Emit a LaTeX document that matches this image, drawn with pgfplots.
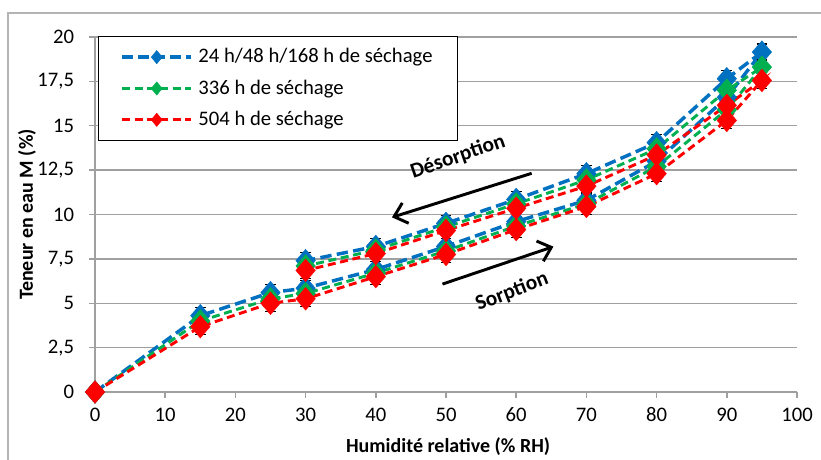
\documentclass[border=0pt]{standalone}
\usepackage{fontspec}
\setmainfont{Carlito}
\usepackage{pgfplots}
\pgfplotsset{compat=1.18}
\usepackage{pgfplotstable}
\usetikzlibrary{arrows.meta}
\definecolor{cblue}{RGB}{0,112,192}
\definecolor{cgreen}{RGB}{0,176,80}
\definecolor{cred}{RGB}{255,0,0}
\definecolor{cgrid}{RGB}{160,160,160}
\definecolor{cframe}{RGB}{180,180,180}

% 24 h/48 h/168 h : sorption then desorption
\pgfplotstableread{
x y e
0 0 0.3
15 4.3 0.45
25 5.6 0.45
30 5.85 0.45
40 6.9 0.45
50 8.2 0.45
60 9.6 0.45
70 10.8 0.45
80 13.0 0.45
90 16.6 0.45
95 19.15 0.45
90 17.65 0.45
80 14.05 0.45
70 12.3 0.45
60 10.85 0.45
50 9.5 0.45
40 8.2 0.45
30 7.4 0.45
}\tblue

\pgfplotstableread{
x y e
0 0 0.3
15 4.0 0.45
25 5.25 0.45
30 5.55 0.45
40 6.7 0.45
50 7.95 0.45
60 9.35 0.45
70 10.6 0.45
80 12.7 0.45
90 15.9 0.45
95 18.3 0.45
90 17.0 0.45
80 13.7 0.45
70 11.95 0.45
60 10.6 0.45
50 9.3 0.45
40 8.0 0.45
30 7.1 0.45
}\tgreen

\pgfplotstableread{
x y e
0 0 0.3
15 3.68 0.45
25 5.0 0.45
30 5.25 0.45
40 6.5 0.45
50 7.75 0.45
60 9.15 0.45
70 10.45 0.45
80 12.3 0.45
90 15.3 0.45
95 17.55 0.45
90 16.15 0.45
80 13.35 0.45
70 11.6 0.45
60 10.35 0.45
50 9.1 0.45
40 7.8 0.45
30 6.85 0.45
}\tred

\pgfplotsset{
  myerr/.style={error bars/.cd, y dir=both, y explicit,
    error bar style={black, line width=0.9pt, solid},
    error mark options={black, rotate=90, mark size=4pt, line width=0.9pt, solid}},
}

\begin{document}
\fontsize{15}{18}\selectfont
\begin{tikzpicture}
\begin{axis}[
  at={(71.25pt,51pt)}, anchor=south west,
  scale only axis, width=526.5pt, height=266.25pt,
  xmin=0, xmax=100, ymin=0, ymax=20,
  xtick={0,10,...,100},
  ytick={0,2.5,5,7.5,10,12.5,15,17.5,20},
  yticklabels={0,{2,5},5,{7,5},10,{12,5},15,{17,5},20},
  axis x line*=bottom, axis y line*=left,
  axis line style={cgrid, line width=1.1pt, -},
  tick align=outside, major tick length=4.5pt,
  tick style={cgrid, line width=1.1pt},
  ymajorgrids, grid style={cgrid, line width=1.1pt},
  yticklabel style={xshift=-6pt},
  xticklabel style={yshift=-2pt},
  ticklabel style={font=\fontsize{15.5}{18}\selectfont},
  /pgf/number format/assume math mode=true,
  xlabel={Humidité relative (\% RH)},
  ylabel={Teneur en eau M (\%)},
  every axis x label/.style={at={(rel axis cs:0.503,-0.155)}, anchor=center, font=\bfseries\fontsize{15}{18}\selectfont},
  every axis y label/.style={at={(rel axis cs:-0.097,0.5)}, anchor=center, rotate=90, font=\bfseries\fontsize{15}{18}\selectfont},
  clip=false,
  legend image code/.code={\draw[mark repeat=2,mark phase=2,#1] plot coordinates {(0pt,0pt)(26pt,0pt)(52pt,0pt)};},
  legend style={at={(rel axis cs:0.004,1.003)}, anchor=north west, draw=black, line width=0.8pt, fill=white,
    inner xsep=16.5pt, inner ysep=7pt, row sep=6.5pt, font=\fontsize{15.5}{18}\selectfont,
    /tikz/every odd column/.append style={column sep=2pt}},
  legend cell align=left,
]
\addlegendimage{cblue, line width=2.6pt, dash pattern=on 8pt off 4pt, mark=diamond*, mark size=5pt, mark options={solid, fill=cblue, line width=0.3pt, xscale=1.1}}
\addlegendentry{24 h/48 h/168 h de séchage}
\addlegendimage{cgreen, line width=2.2pt, dash pattern=on 6pt off 3.5pt, mark=diamond*, mark size=5pt, mark options={solid, fill=cgreen, line width=0.3pt, xscale=1.1}}
\addlegendentry{336 h de séchage}
\addlegendimage{cred, line width=2.2pt, dash pattern=on 6pt off 3.5pt, mark=diamond*, mark size=5pt, mark options={solid, fill=cred, line width=0.3pt, xscale=1.1}}
\addlegendentry{504 h de séchage}

\addplot[forget plot, cblue, line width=2.6pt, dash pattern=on 8.5pt off 4pt, mark=diamond*, mark size=8.5pt,
  mark options={solid, fill=cblue, draw=cblue, line width=0.3pt, xscale=1.15}, myerr]
  table[x=x, y=y, y error=e] {\tblue};
\addplot[forget plot, cgreen, line width=2.2pt, dash pattern=on 6pt off 3.5pt, mark=diamond*, mark size=8.5pt,
  mark options={solid, fill=cgreen, draw=cgreen, line width=0.3pt, xscale=1.15}, myerr]
  table[x=x, y=y, y error=e] {\tgreen};
\addplot[forget plot, cred, line width=2.2pt, dash pattern=on 6pt off 3.5pt, mark=diamond*, mark size=8.5pt,
  mark options={solid, fill=cred, draw=cred, line width=0.3pt, xscale=1.15}, myerr]
  table[x=x, y=y, y error=e] {\tred};

\draw[black, line width=2.2pt, -{Straight Barb[length=9pt, width=16pt]}] (axis cs:62.2,12.32) -- (axis cs:42.3,9.84);
\draw[black, line width=2.2pt, -{Straight Barb[length=9pt, width=16pt]}] (axis cs:49.5,6.08) -- (axis cs:65.3,8.19);
\node[rotate=19, font=\bfseries\fontsize{16}{18}\selectfont] at (axis cs:51.7,13.24) {Désorption};
\node[rotate=21, font=\bfseries\fontsize{16}{18}\selectfont] at (axis cs:59.4,5.65) {Sorption};
\end{axis}
\draw[cframe, line width=1.1pt] (6pt,-20pt) -- (6pt,335.25pt) -- (640pt,335.25pt);
\pgfresetboundingbox
\useasboundingbox (0,0) rectangle (615.75pt,345pt);
\end{tikzpicture}
\end{document}
